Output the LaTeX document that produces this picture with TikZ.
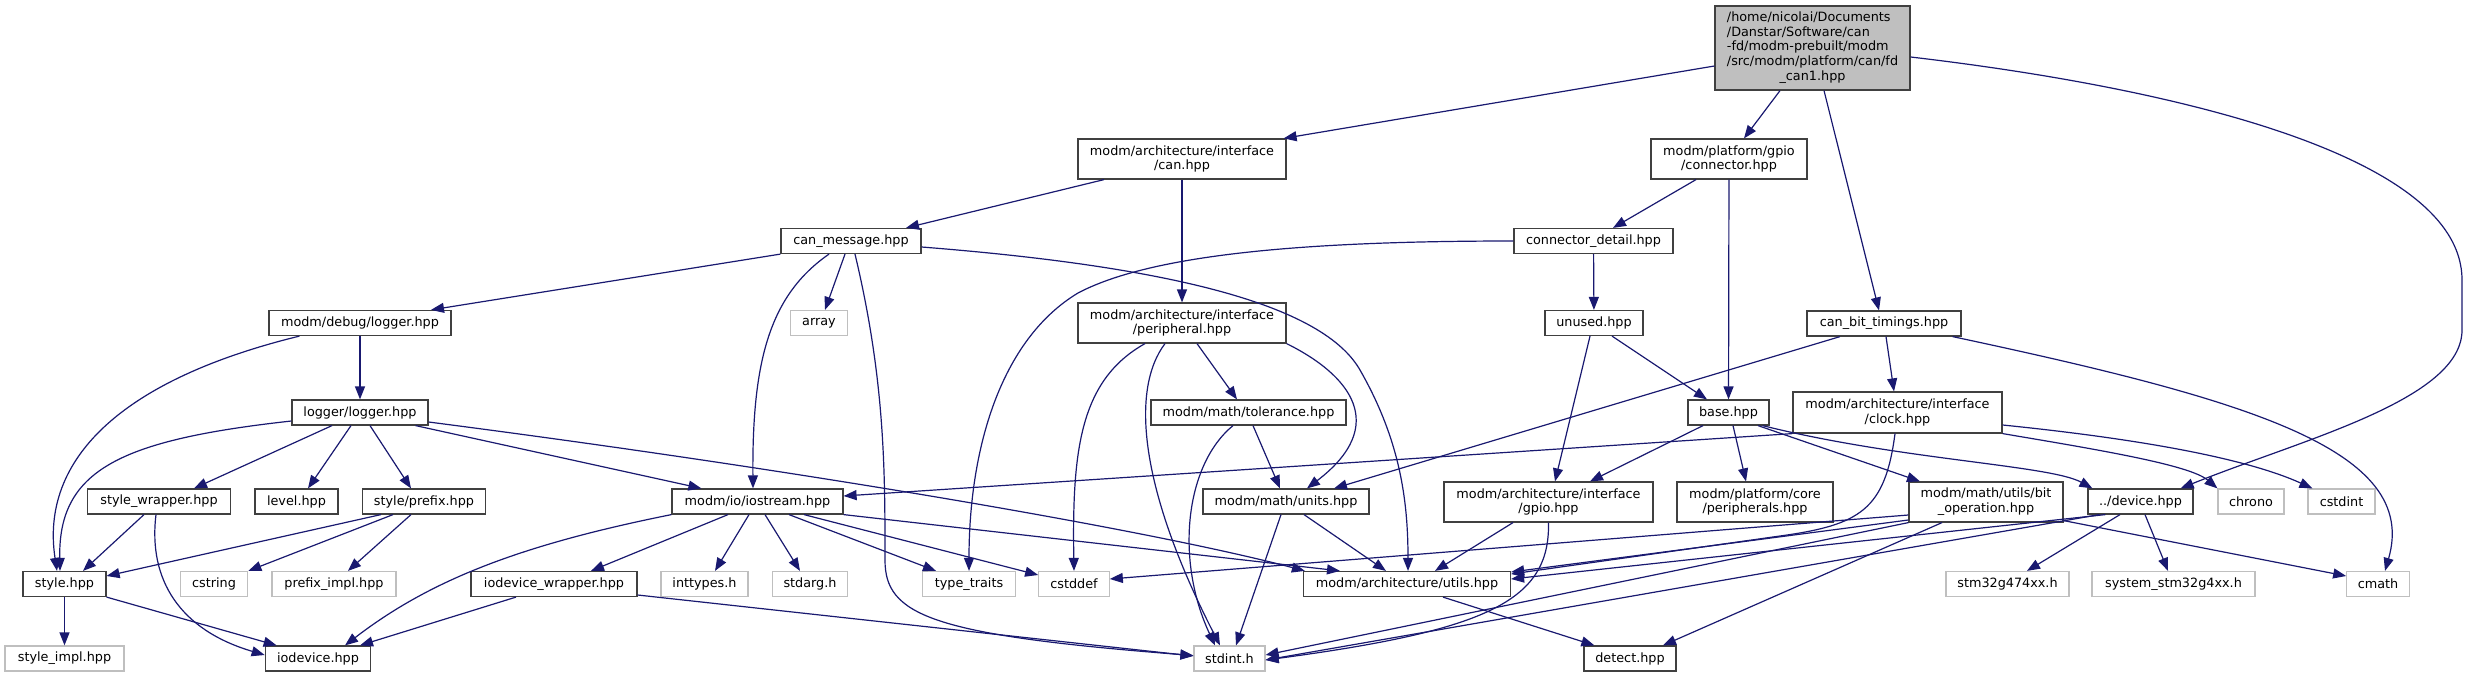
\documentclass[tikz,border=0pt]{standalone}
\usepackage{fontspec}
\setmainfont{DejaVu Sans}
\usetikzlibrary{arrows.meta}
\definecolor{edgeblue}{HTML}{191970}
\definecolor{boxline}{HTML}{404040}
\definecolor{extline}{HTML}{BFBFBF}
\definecolor{rootfill}{HTML}{BFBFBF}
\tikzset{
  filebox/.style={draw=boxline, line width=1.2pt, fill=white, inner sep=0pt, minimum height=25pt, font=\fontsize{12.8}{14.8}\selectfont, align=center},
  extbox/.style={filebox, draw=extline},
  rootbox/.style={filebox, fill=rootfill},
  dep/.style={draw=edgeblue, line width=1.2pt, -{Triangle[length=13pt,width=10pt]}},
}
\begin{document}
\begin{tikzpicture}[x=1pt,y=-1pt]
\fill[white] (0,0) rectangle (2469,677);
\useasboundingbox (0,0) rectangle (2469,677);
\node[rootbox, minimum width=195pt, minimum height=84pt] (root) at (1812.5,48) {\begin{tabular}{@{}l@{}}/home/nicolai/Documents\\/Danstar/Software/can\\-fd/modm-prebuilt/modm\\/src/modm/platform/can/fd\\\multicolumn{1}{@{}c@{}}{\_can1.hpp}\end{tabular}};
\node[filebox, minimum width=208pt, minimum height=40pt] (can) at (1182,159) {modm/architecture/interface\\/can.hpp};
\node[filebox, minimum width=156pt, minimum height=40pt] (conn) at (1729,159) {modm/platform/gpio\\/connector.hpp};
\node[filebox, minimum width=154pt] (bittim) at (1884,323.5) {can\_bit\_timings.hpp};
\node[filebox, minimum width=140pt] (canmsg) at (851,241) {can\_message.hpp};
\node[filebox, minimum width=159pt] (cdetail) at (1593.5,241) {connector\_detail.hpp};
\node[filebox, minimum width=182pt] (dlogger) at (360,323) {modm/debug/logger.hpp};
\node[extbox, minimum width=57pt] (array) at (819,323) {array};
\node[filebox, minimum width=208pt, minimum height=40pt] (periph) at (1182,323) {modm/architecture/interface\\/peripheral.hpp};
\node[filebox, minimum width=98pt] (unused) at (1594,323) {unused.hpp};
\node[filebox, minimum width=136pt] (llogger) at (360,412.5) {logger/logger.hpp};
\node[filebox, minimum width=195pt] (tolerance) at (1248.5,412.5) {modm/math/tolerance.hpp};
\node[filebox, minimum width=81pt] (base) at (1728.5,412.5) {base.hpp};
\node[filebox, minimum width=209pt, minimum height=41pt] (clock) at (1897.5,412.5) {modm/architecture/interface\\/clock.hpp};
\node[filebox, minimum width=143pt] (swrapper) at (159,501.5) {style\_wrapper.hpp};
\node[filebox, minimum width=83pt] (level) at (296.5,501.5) {level.hpp};
\node[filebox, minimum width=123pt] (sprefix) at (424,501.5) {style/prefix.hpp};
\node[filebox, minimum width=171pt] (iostream) at (757.5,501.5) {modm/io/iostream.hpp};
\node[filebox, minimum width=166pt] (units) at (1286,501.5) {modm/math/units.hpp};
\node[filebox, minimum width=209pt, minimum height=40pt] (gpio) at (1548.5,502) {modm/architecture/interface\\/gpio.hpp};
\node[filebox, minimum width=156pt, minimum height=40pt] (cperiph) at (1755,502) {modm/platform/core\\/peripherals.hpp};
\node[filebox, minimum width=154pt, minimum height=40pt] (bitop) at (1986,502) {modm/math/utils/bit\\\_operation.hpp};
\node[filebox, minimum width=105pt] (device) at (2140.5,501.5) {../device.hpp};
\node[extbox, minimum width=66pt] (chrono) at (2251,501.5) {chrono};
\node[extbox, minimum width=67pt] (cstdint) at (2341.5,501.5) {cstdint};
\node[filebox, minimum width=83pt] (style) at (64.5,584) {style.hpp};
\node[extbox, minimum width=67.5pt] (cstring) at (214,584) {cstring};
\node[extbox, minimum width=124pt] (prefiximpl) at (334,584) {prefix\_impl.hpp};
\node[filebox, minimum width=166pt] (iowrapper) at (554,584) {iodevice\_wrapper.hpp};
\node[extbox, minimum width=87pt] (inttypes) at (704.5,584) {inttypes.h};
\node[extbox, minimum width=74.5pt] (stdarg) at (810,584) {stdarg.h};
\node[extbox, minimum width=92.5pt] (typetraits) at (969,584) {type\_traits};
\node[extbox, minimum width=70.5pt] (cstddef) at (1074,584) {cstddef};
\node[filebox, minimum width=207pt] (utils) at (1407,584) {modm/architecture/utils.hpp};
\node[extbox, minimum width=123pt] (stm) at (2007.5,584) {stm32g474xx.h};
\node[extbox, minimum width=163pt] (system) at (2173.5,584) {system\_stm32g4xx.h};
\node[extbox, minimum width=62.5pt] (cmath) at (2378,584) {cmath};
\node[extbox, minimum width=119pt] (styleimpl) at (64.5,658.5) {style\_impl.hpp};
\node[filebox, minimum width=105.5pt] (iodevice) at (318,658.5) {iodevice.hpp};
\node[extbox, minimum width=71pt] (stdint) at (1229.5,658.5) {stdint.h};
\node[filebox, minimum width=92pt] (detect) at (1630,658.5) {detect.hpp};
\draw[dep] ([yshift=-18pt]root.west) -- ([xshift=-3pt]can.north east);
\draw[dep] ([xshift=-32.5pt]root.south) -- ([xshift=15pt]conn.north);
\draw[dep] ([xshift=11.5pt]root.south) -- ([xshift=-5pt]bittim.north);
\draw[dep] ([yshift=-9pt]root.east) .. controls (2150,85) and (2462,150) .. (2462,280) -- (2462,330) .. controls (2462,400) and (2300,440) .. ([xshift=-13pt]device.north east);
\draw[dep] ([xshift=-78pt]can.south) -- ([xshift=55pt]canmsg.north);
\draw[dep] (can) -- (periph);
\draw[dep] ([xshift=-33pt]conn.south) -- ([xshift=19.5pt]cdetail.north);
\draw[dep] (conn) -- (base);
\draw[dep] (canmsg.south west) -- ([xshift=71pt]dlogger.north);
\draw[dep] ([xshift=-6pt]canmsg.south) -- ([xshift=6pt]array.north);
\draw[dep] ([xshift=-22pt]canmsg.south) .. controls (770,295) and (752,360) .. ([xshift=-4.5pt]iostream.north);
\draw[dep] ([xshift=4pt]canmsg.south) .. controls (885,380) and (885,470) .. (885,560) .. controls (885,615) and (930,635) .. ([yshift=3pt]stdint.west);
\draw[dep] ([yshift=-6pt]canmsg.east) .. controls (1150,265) and (1320,300) .. (1360,370) .. controls (1400,440) and (1408,500) .. ([xshift=1pt]utils.north);
\draw[dep] (cdetail.west) .. controls (1300,241) and (1150,255) .. (1078,293) .. controls (1000,340) and (969,450) .. (typetraits.north);
\draw[dep] (cdetail) -- (unused);
\draw[dep] ([xshift=2pt]bittim.south) -- ([xshift=-3.5pt]clock.north);
\draw[dep] ([xshift=-44pt]bittim.south) -- ([xshift=48pt]units.north);
\draw[dep] ([xshift=-9pt]bittim.south east) .. controls (2250,400) and (2420,450) .. ([xshift=7pt]cmath.north);
\draw[dep] (dlogger) -- (llogger);
\draw[dep] ([xshift=31pt]dlogger.south west) .. controls (120,380) and (40,460) .. ([xshift=-7.5pt]style.north);
\draw[dep] ([yshift=-8.5pt]llogger.west) .. controls (120,440) and (58,470) .. ([xshift=-4.5pt]style.north);
\draw[dep] ([xshift=-28pt]llogger.south) -- ([xshift=35pt]swrapper.north);
\draw[dep] ([xshift=-9pt]llogger.south) -- ([xshift=11.5pt]level.north);
\draw[dep] ([xshift=10pt]llogger.south) -- ([xshift=-13pt]sprefix.north);
\draw[dep] ([xshift=-13pt]llogger.south east) -- ([xshift=30pt]iostream.north west);
\draw[dep] ([yshift=-9.5pt]llogger.east) .. controls (800,470) and (1150,530) .. ([xshift=2pt]utils.north west);
\draw[dep] ([xshift=4.5pt]tolerance.south) -- ([xshift=-6pt]units.north);
\draw[dep] ([xshift=-15.5pt]tolerance.south) .. controls (1185,465) and (1175,560) .. ([xshift=-14.5pt]stdint.north);
\draw[dep] ([xshift=-37pt]periph.south) .. controls (1080,380) and (1072,450) .. (cstddef.north);
\draw[dep] ([xshift=-17pt]periph.south) .. controls (1130,390) and (1140,490) .. ([xshift=-9.5pt]stdint.north);
\draw[dep] ([xshift=15pt]periph.south) -- ([xshift=-11.5pt]tolerance.north);
\draw[dep] (periph.south east) .. controls (1350,375) and (1390,425) .. ([xshift=21pt]units.north);
\draw[dep] ([xshift=-4pt]unused.south) -- ([xshift=6.5pt]gpio.north);
\draw[dep] ([xshift=18pt]unused.south) -- ([xshift=-21.5pt]base.north);
\draw[dep] ([xshift=-25.5pt]base.south) -- ([xshift=41.5pt]gpio.north);
\draw[dep] ([xshift=4.5pt]base.south) -- ([xshift=-9pt]cperiph.north);
\draw[dep] ([xshift=29.5pt]base.south) -- ([xshift=-66pt]bitop.north);
\draw[dep] ([xshift=-7pt]base.south east) .. controls (1900,460) and (2050,465) .. ([xshift=5pt]device.north west);
\draw[dep] (clock.south west) -- ([yshift=5.5pt]iostream.east);
\draw[dep] ([xshift=-2.5pt]clock.south) .. controls (1885,510) and (1860,525) .. (1780,536) -- ([yshift=10pt]utils.east);
\draw[dep] (clock.south east) .. controls (2100,450) and (2190,465) .. (chrono.north west);
\draw[dep] ([yshift=-12.5pt]clock.east) .. controls (2150,440) and (2250,460) .. ([xshift=5pt]cstdint.north west);
\draw[dep] ([xshift=-15pt]swrapper.south) -- ([xshift=18.5pt]style.north);
\draw[dep] ([xshift=-3pt]swrapper.south) .. controls (148,580) and (180,630) .. ([yshift=3.5pt]iodevice.west);
\draw[dep] ([xshift=19pt]sprefix.south west) -- ([yshift=8pt]style.east);
\draw[dep] ([xshift=-31pt]sprefix.south) -- (cstring.north east);
\draw[dep] ([xshift=-13pt]sprefix.south) -- ([xshift=14pt]prefiximpl.north);
\draw[dep] (iostream.south west) .. controls (520,545) and (430,580) .. ([xshift=27pt]iodevice.north);
\draw[dep] ([xshift=-29.5pt]iostream.south) -- ([xshift=37pt]iowrapper.north);
\draw[dep] ([xshift=-8.5pt]iostream.south) -- ([xshift=10.5pt]inttypes.north);
\draw[dep] ([xshift=7.5pt]iostream.south) -- ([xshift=-10pt]stdarg.north);
\draw[dep] ([xshift=31.5pt]iostream.south) -- ([xshift=-33pt]typetraits.north);
\draw[dep] ([xshift=46.5pt]iostream.south) -- ([yshift=9pt]cstddef.west);
\draw[dep] (iostream.south east) -- ([xshift=-67pt]utils.north);
\draw[dep] ([xshift=18pt]units.south) -- ([xshift=-21pt]utils.north);
\draw[dep] ([xshift=-5pt]units.south) -- ([xshift=6.5pt]stdint.north);
\draw[dep] ([xshift=-35.5pt]gpio.south) -- ([xshift=28pt]utils.north);
\draw[dep] (gpio.south) .. controls (1550,600) and (1490,630) .. ([yshift=-1.5pt]stdint.east);
\draw[dep] ([yshift=-13pt]bitop.west) -- ([yshift=5pt]cstddef.east);
\draw[dep] ([yshift=-18pt]bitop.west) -- ([yshift=12pt]utils.east);
\draw[dep] (bitop.south west) -- ([yshift=3.5pt]stdint.east);
\draw[dep] ([xshift=-44pt]bitop.south) -- ([xshift=33pt]detect.north);
\draw[dep] ([yshift=2pt]bitop.south east) -- ([yshift=8pt]cmath.west);
\draw[dep] ([xshift=18pt]device.south west) -- ([yshift=5pt]utils.east);
\draw[dep] ([xshift=12pt]device.south west) -- ([yshift=-1.5pt]stdint.east);
\draw[dep] ([xshift=-20.5pt]device.south) -- ([xshift=19.5pt]stm.north);
\draw[dep] ([xshift=4.5pt]device.south) -- ([xshift=-5.5pt]system.north);
\draw[dep] (style) -- (styleimpl);
\draw[dep] (style.south east) -- ([xshift=12pt]iodevice.north west);
\draw[dep] ([xshift=-38pt]iowrapper.south) -- ([xshift=42pt]iodevice.north);
\draw[dep] ([yshift=-11pt]iowrapper.east) -- ([yshift=2.5pt]stdint.west);
\draw[dep] ([xshift=36pt]utils.south) -- ([xshift=11pt]detect.north west);
\end{tikzpicture}
\end{document}
